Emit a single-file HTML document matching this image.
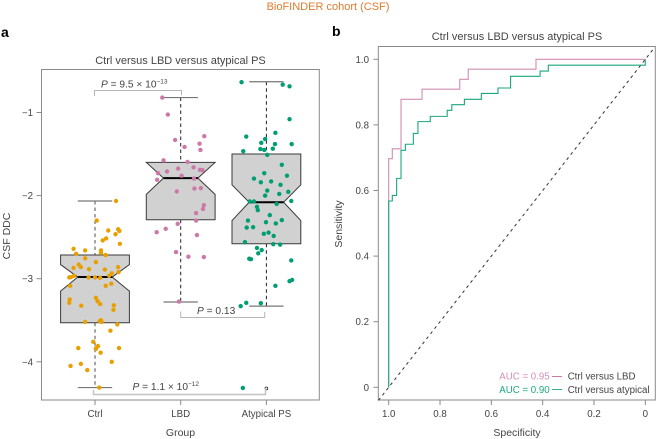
<!DOCTYPE html>
<html>
<head>
<meta charset="utf-8">
<title>BioFINDER cohort (CSF)</title>
<style>
html,body{margin:0;padding:0;background:#fff;width:656px;height:439px;overflow:hidden}
svg{display:block}
text{font-family:"Liberation Sans",sans-serif;fill:#444}
</style>
</head>
<body>
<svg id="fig" width="656" height="439" viewBox="0 0 656 439" xmlns="http://www.w3.org/2000/svg">
  <rect width="656" height="439" fill="#fff"/>
  <text x="328" y="10" text-anchor="middle" font-size="11" style="fill:#e07b2e">BioFINDER cohort (CSF)</text>
  <text x="1" y="37" font-size="14" font-weight="bold" style="fill:#000">a</text>
  <text x="332" y="36" font-size="14" font-weight="bold" style="fill:#000">b</text>

  <text x="180.5" y="64" text-anchor="middle" font-size="11">Ctrl versus LBD versus atypical PS</text>
  <text x="517" y="40" text-anchor="middle" font-size="11">Ctrl versus LBD versus atypical PS</text>

  <rect x="41.5" y="69.5" width="277.8" height="330.5" fill="none" stroke="#8a8a8a" stroke-width="1"/>
  <rect x="378.3" y="46.5" width="277" height="353.5" fill="none" stroke="#8a8a8a" stroke-width="1"/>

  <g id="boxplot"></g>
  <g id="roc"></g>

  <path d="M94.5 96V90.5H181.5V95" fill="none" stroke="#b5b5b5" stroke-width="1"/>
  <path d="M180.7 311.5V317.5H264.7V312" fill="none" stroke="#b5b5b5" stroke-width="1"/>
  <path d="M93.5 390V394.5H265.5V388" fill="none" stroke="#c4c4c4" stroke-width="1.5"/>

  <text x="101" y="87.5" font-size="10.2"><tspan font-style="italic">P</tspan> = 9.5 × 10<tspan font-size="6.5" dy="-4">−13</tspan></text>
  <text x="197" y="314" font-size="10.2"><tspan font-style="italic">P</tspan> = 0.13</text>
  <text x="132.5" y="390" font-size="10.2"><tspan font-style="italic">P</tspan> = 1.1 × 10<tspan font-size="6.5" dy="-4">−12</tspan></text>

  <text transform="translate(10,236) rotate(-90)" text-anchor="middle" font-size="10.5">CSF DDC</text>
  <text x="180.5" y="436" text-anchor="middle" font-size="10.5">Group</text>
  <text transform="translate(342,224) rotate(-90)" text-anchor="middle" font-size="10.5">Sensitivity</text>
  <text x="517" y="436" text-anchor="middle" font-size="10.5">Specificity</text>

  <g>
    <text x="499.3" y="379.5" font-size="9.7" style="fill:#d98fba">AUC = 0.95</text>
    <line x1="552" x2="562" y1="376.5" y2="376.5" stroke="#cc79a7" stroke-width="1"/>
    <text x="567.7" y="379.5" font-size="9.7">Ctrl versus LBD</text>
    <text x="499.3" y="393" font-size="9.7" style="fill:#1fa982">AUC = 0.90</text>
    <line x1="552" x2="562" y1="389.5" y2="389.5" stroke="#35b08f" stroke-width="1"/>
    <text x="567.7" y="393" font-size="9.7">Ctrl versus atypical</text>
  </g>
</svg>
<script>
var groupLabels = ['Ctrl', 'LBD', 'Atypical PS'];
var csfTicks = [-1, -2, -3, -4];
var q1Values = [-3.53, -2.29, -2.58];
var medianValues = [-2.98, -1.79, -2.08];
var q3Values = [-2.715, -1.6, -1.5];
var notchLowValues = [-3.15, -1.985, -2.3];
var notchHighValues = [-2.83, -1.6, -1.87];
var whiskerLowValues = [-4.31, -3.28, -3.33];
var whiskerHighValues = [-2.065, -0.82, -0.63];
var outlierValues = [null, null, -4.32];

var ctrlJitter = [.245,.02,.155,.27,.285,.24,.13,.09,.29,-.25,-.115,.07,.07,-.22,.125,-.115,.01,-.19,-.165,-.25,.27,-.07,.115,.275,.195,.165,-.245,-.28,-.3,-.075,0,.06,.19,.125,-.29,.01,-.295,.03,-.3,.06,-.16,.22,.215,.055,.07,.075,-.115,.26,.18,-.02,.035,.015,.01,-.195,.28,.065,.195,-.165,-.285,-.09,.05];
var ctrlValues = [-2.065,-2.3,-2.42,-2.405,-2.425,-2.465,-2.515,-2.54,-2.58,-2.64,-2.66,-2.66,-2.69,-2.7,-2.715,-2.755,-2.8,-2.83,-2.86,-2.87,-2.86,-2.885,-2.89,-2.92,-2.935,-2.965,-2.965,-2.98,-2.985,-2.985,-2.985,-2.99,-3.06,-3.085,-3.085,-3.23,-3.25,-3.27,-3.29,-3.305,-3.325,-3.32,-3.375,-3.51,-3.5,-3.52,-3.52,-3.55,-3.625,-3.76,-3.81,-3.835,-3.845,-3.835,-3.835,-3.89,-4,-4.025,-4.05,-4.1,-4.31];

var lbdJitter = [-.215,-.15,.275,-.065,.22,.045,.23,-.2,.08,.15,-.03,.225,.255,-.16,-.265,.01,-.275,.155,.16,.235,-.045,.27,.26,.18,.18,-.035,-.175,-.28,.19,-.055,.09,.27,-.02];
var lbdValues = [-.82,-1.025,-1.285,-1.33,-1.375,-1.415,-1.45,-1.575,-1.595,-1.66,-1.675,-1.69,-1.695,-1.71,-1.73,-1.76,-1.81,-1.795,-1.915,-1.91,-1.95,-2.115,-2.16,-2.21,-2.3,-2.34,-2.4,-2.44,-2.475,-2.68,-2.735,-2.74,-3.275];

var atypicalJitter = [-.29,.19,.27,.27,.105,-.235,-.015,-.06,.1,.295,-.07,-.025,.075,-.27,.01,.18,-.025,.24,-.145,-.065,.055,.165,.01,.255,.15,-.015,.29,-.195,-.145,.12,-.11,-.1,.04,-.215,.18,-.005,.11,-.23,-.155,.025,-.03,.085,-.25,.08,.16,-.11,-.055,-.095,-.2,-.18,.29,.3,.27,.105,-.235,-.3,-.065,-.275];
var atypicalValues = [-.635,-.665,-.685,-1.08,-1.245,-1.29,-1.32,-1.365,-1.38,-1.38,-1.44,-1.45,-1.435,-1.465,-1.51,-1.63,-1.73,-1.76,-1.795,-1.84,-1.83,-1.87,-1.94,-1.955,-1.98,-2,-2.065,-2.07,-2.07,-2.1,-2.135,-2.175,-2.235,-2.3,-2.295,-2.32,-2.335,-2.385,-2.38,-2.445,-2.46,-2.485,-2.56,-2.585,-2.59,-2.63,-2.655,-2.695,-2.76,-2.765,-2.78,-3.015,-3.03,-3.085,-3.29,-3.33,-3.295,-4.315];

var rocTickValues = [1, 0.8, 0.6, 0.4, 0.2, 0];
var rocTickLabels = ['1.0', '0.8', '0.6', '0.4', '0.2', '0'];
var lbdSpecificity = [1,1,.986,.986,.952,.952,.87,.87,.723,.723,.69,.69,.426,.426,0];
var lbdSensitivity = [0,.697,.697,.727,.727,.878,.878,.909,.909,.939,.939,.97,.97,1,1];
var atypicalSpecificity = [1,1,.986,.986,.969,.969,.952,.952,.935,.935,.904,.904,.886,.886,.838,.838,.772,.772,.754,.754,.705,.705,.639,.639,.574,.574,.525,.525,.41,.41,.378,.378,0,0];
var atypicalSensitivity = [0,.568,.568,.585,.585,.637,.637,.7225,.7225,.741,.741,.774,.774,.81,.81,.826,.826,.8445,.8445,.8615,.8615,.878,.878,.896,.896,.9125,.9125,.948,.948,.964,.964,.982,.982,1];

var NS = 'http://www.w3.org/2000/svg';
function mk(parent, tag, attrs, txt) {
  var el = document.createElementNS(NS, tag);
  for (var k in attrs) el.setAttribute(k, attrs[k]);
  if (txt !== undefined) el.textContent = txt;
  parent.appendChild(el);
  return el;
}
function xGroup(c) { return 95 + c * 85.7; }
function yCsf(v) { return 112.5 + (-1 - v) * 83.1; }
function xSpec(s) { return 645.3 - s * 256.6; }
function ySens(s) { return 387.3 - s * 328; }

var boxG = document.getElementById('boxplot');
var rocG = document.getElementById('roc');
var tickEl, labelEl;

csfTicks.forEach(function (t) {
  tickEl = mk(boxG, 'line', {x1: 36.5, x2: 41.5, y1: yCsf(t), y2: yCsf(t), stroke: '#8a8a8a'});
  
  
  labelEl = mk(boxG, 'text', {x: 33, y: yCsf(t) + 3.5, 'text-anchor': 'end', 'font-size': 9.7}, '\u2212' + Math.abs(t));
  
  
});

groupLabels.forEach(function (g, i) {
  var cx = xGroup(i);
  var hw = 34.4, nw = 17.2;
  tickEl = mk(boxG, 'line', {x1: cx, x2: cx, y1: 400, y2: 405, stroke: '#8a8a8a'});
  
  
  labelEl = mk(boxG, 'text', {x: cx, y: 417, 'text-anchor': 'middle', 'font-size': 9.7}, g);
  
  

  var whiskerColor = i === 0 ? '#777' : '#222';
  var whiskerWidth = i === 0 ? 1.3 : 1;
  var upperWhisker = mk(boxG, 'line', {x1: cx, x2: cx, y1: yCsf(whiskerHighValues[i]), y2: yCsf(q3Values[i]), stroke: whiskerColor, 'stroke-width': whiskerWidth, 'stroke-dasharray': '3.5,3'});
  
  
  var lowerWhisker = mk(boxG, 'line', {x1: cx, x2: cx, y1: yCsf(q1Values[i]), y2: yCsf(whiskerLowValues[i]), stroke: whiskerColor, 'stroke-width': whiskerWidth, 'stroke-dasharray': '3.5,3'});
  
  
  var topCap = mk(boxG, 'line', {x1: cx - nw, x2: cx + nw, y1: yCsf(whiskerHighValues[i]), y2: yCsf(whiskerHighValues[i]), stroke: '#777', 'stroke-width': 1.2});
  
  
  var bottomCap = mk(boxG, 'line', {x1: cx - nw, x2: cx + nw, y1: yCsf(whiskerLowValues[i]), y2: yCsf(whiskerLowValues[i]), stroke: '#777', 'stroke-width': 1.2});
  
  

  var yq1 = yCsf(q1Values[i]), yq3 = yCsf(q3Values[i]), ym = yCsf(medianValues[i]);
  var ynl = yCsf(notchLowValues[i]), ynh = yCsf(notchHighValues[i]);
  var d = 'M' + (cx - hw) + ' ' + yq3 + 'H' + (cx + hw) + 'V' + ynh + 'L' + (cx + nw) + ' ' + ym + 'L' + (cx + hw) + ' ' + ynl + 'V' + yq1 + 'H' + (cx - hw) + 'V' + ynl + 'L' + (cx - nw) + ' ' + ym + 'L' + (cx - hw) + ' ' + ynh + 'Z';
  var box = mk(boxG, 'path', {d: d, fill: '#d1d1d1', stroke: '#3a3a3a', 'stroke-width': 1});
  
  
  var med = mk(boxG, 'line', {x1: cx - nw, x2: cx + nw, y1: ym, y2: ym, stroke: '#000', 'stroke-width': 2});
  
  
  if (outlierValues[i] !== null) {
    var out = mk(boxG, 'circle', {cx: cx, cy: yCsf(outlierValues[i]), r: 1.4, fill: '#fff', stroke: '#222', 'stroke-width': 0.8});
    
    
  }
});

function drawPoints(idx, jitter, values, color) {
  values.forEach(function (v, i) {
    var pt = mk(boxG, 'circle', {cx: xGroup(idx + jitter[i]), cy: yCsf(v), r: 2.2, fill: color});
    
    
  });
}
drawPoints(0, ctrlJitter, ctrlValues, '#e8a000');
drawPoints(1, lbdJitter, lbdValues, '#cc79a7');
drawPoints(2, atypicalJitter, atypicalValues, '#009e73');

rocTickValues.forEach(function (t, i) {
  tickEl = mk(rocG, 'line', {x1: 373.5, x2: 378.3, y1: ySens(t), y2: ySens(t), stroke: '#8a8a8a'});
  
  
  labelEl = mk(rocG, 'text', {x: 369, y: ySens(t) + 3.5, 'text-anchor': 'end', 'font-size': 9.7}, rocTickLabels[i]);
  
  
  tickEl = mk(rocG, 'line', {x1: xSpec(t), x2: xSpec(t), y1: 400, y2: 405, stroke: '#8a8a8a'});
  
  
  labelEl = mk(rocG, 'text', {x: xSpec(t), y: 417, 'text-anchor': 'middle', 'font-size': 9.7}, rocTickLabels[i]);
  
  
});

var diagonal = mk(rocG, 'line', {x1: xSpec(1.04), y1: ySens(-0.04), x2: xSpec(-0.035), y2: ySens(1.035), stroke: '#333', 'stroke-width': 1, 'stroke-dasharray': '3,3.5'});



function rocPath(spec, sens) {
  return spec.map(function (s, i) {
    return (i ? 'L' : 'M') + xSpec(s) + ' ' + ySens(sens[i]);
  }).join('');
}
var lbdCurve = mk(rocG, 'path', {d: rocPath(lbdSpecificity, lbdSensitivity), fill: 'none', stroke: '#d08db4', 'stroke-width': 1.1});


var atypicalCurve = mk(rocG, 'path', {d: rocPath(atypicalSpecificity, atypicalSensitivity), fill: 'none', stroke: '#1aa67f', 'stroke-width': 1.1});


</script>
</body>
</html>
